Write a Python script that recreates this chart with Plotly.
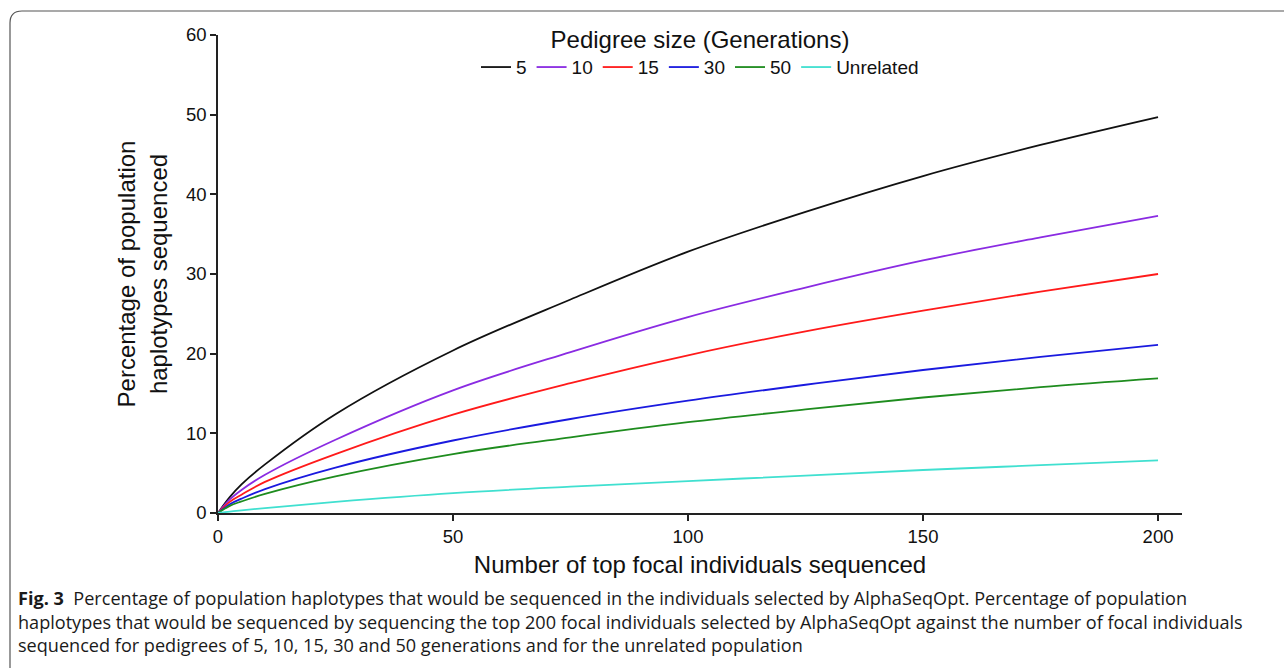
import plotly.graph_objects as go

# ---- data ----
x_vals = [0, 2.5, 5, 10, 25, 50, 75, 100, 125, 150, 175, 200]
series_names = ["5", "10", "15", "30", "50", "Unrelated"]
gen5 = [0, 2.0, 3.6, 6.1, 12.4, 20.4, 26.8, 32.8, 37.8, 42.3, 46.2, 49.7]
gen10 = [0, 1.7, 2.9, 4.8, 9.2, 15.4, 20.2, 24.6, 28.3, 31.7, 34.6, 37.3]
gen15 = [0, 1.4, 2.3, 3.9, 7.4, 12.35, 16.3, 19.8, 22.8, 25.4, 27.8, 30.0]
gen30 = [0, 1.1, 1.8, 3.0, 5.7, 9.1, 11.8, 14.1, 16.1, 17.95, 19.6, 21.1]
gen50 = [0, 0.9, 1.45, 2.4, 4.6, 7.4, 9.5, 11.4, 13.0, 14.5, 15.8, 16.9]
unrelated = [0, 0.18, 0.34, 0.62, 1.4, 2.5, 3.3, 4.0, 4.7, 5.4, 6.0, 6.6]
colors = ["#111111", "#8a2be2", "#ff1a1a", "#1a1adf", "#1e8c1e", "#40e0d0"]
x_ticks = [0, 50, 100, 150, 200]
y_ticks = [0, 10, 20, 30, 40, 50, 60]

W, H = 1284, 668
L, R, T, B = 218, 102, 35, 155
PW, PH = W - L - R, H - T - B


def px(x):
    return (x - L) / PW


def py(y):
    return (H - B - y) / PH


fig = go.Figure()
for name, ys, c in zip(series_names, [gen5, gen10, gen15, gen30, gen50, unrelated], colors):
    fig.add_trace(go.Scatter(x=x_vals, y=ys, mode="lines", name=name,
                             line=dict(color=c, width=1.8, shape="spline", smoothing=1.0)))

fig.update_layout(
    width=W, height=H,
    margin=dict(l=L, r=R, t=T, b=B),
    paper_bgcolor="white", plot_bgcolor="white",
    font=dict(family="Liberation Sans, Arial, sans-serif", color="#111111"),
    legend=dict(
        orientation="h", x=0.5, xanchor="center", y=py(17), yanchor="top",
        title=dict(text="Pedigree size (Generations)", side="top center",
                   font=dict(size=24)),
        font=dict(size=19), itemwidth=30, tracegroupgap=0,
        bgcolor="rgba(0,0,0,0)",
    ),
    xaxis=dict(range=[0, 205.1], tickvals=x_ticks, showgrid=False, zeroline=False,
               showline=True, linecolor="#222", linewidth=1.5,
               ticks="outside", ticklen=6, tickwidth=1.5, tickcolor="#222",
               tickfont=dict(size=18.5),
               title=dict(text="Number of top focal individuals sequenced",
                          font=dict(size=24), standoff=10)),
    yaxis=dict(range=[0, 60], tickvals=y_ticks, showgrid=False, zeroline=False,
               showline=True, linecolor="#222", linewidth=1.5,
               ticks="outside", ticklen=6, tickwidth=1.5, tickcolor="#222",
               tickfont=dict(size=18.5),
               title=dict(text="Percentage of population<br>haplotypes sequenced",
                          font=dict(size=24), standoff=12)),
)

# frame with rounded top-left corner
r = 12
fig.add_shape(type="path", xref="paper", yref="paper",
              path=(f"M {px(10)} {py(H + 5)} L {px(10)} {py(11 + r)} "
                    f"Q {px(10)} {py(11)} {px(10 + r)} {py(11)} L {px(W + 5)} {py(11)}"),
              line=dict(color="#555555", width=1.2))

caption = ("<b>Fig. 3</b>  Percentage of population haplotypes that would be sequenced in the individuals selected by AlphaSeqOpt. Percentage of population<br>"
           "haplotypes that would be sequenced by sequencing the top 200 focal individuals selected by AlphaSeqOpt against the number of focal individuals<br>"
           "sequenced for pedigrees of 5, 10, 15, 30 and 50 generations and for the unrelated population")
fig.add_annotation(text=caption, xref="paper", yref="paper", x=px(16), y=py(584),
                   xanchor="left", yanchor="top", align="left", showarrow=False,
                   font=dict(family="Open Sans, sans-serif", size=18.1, color="#1a1a1a"))

fig.write_html("out.html")
